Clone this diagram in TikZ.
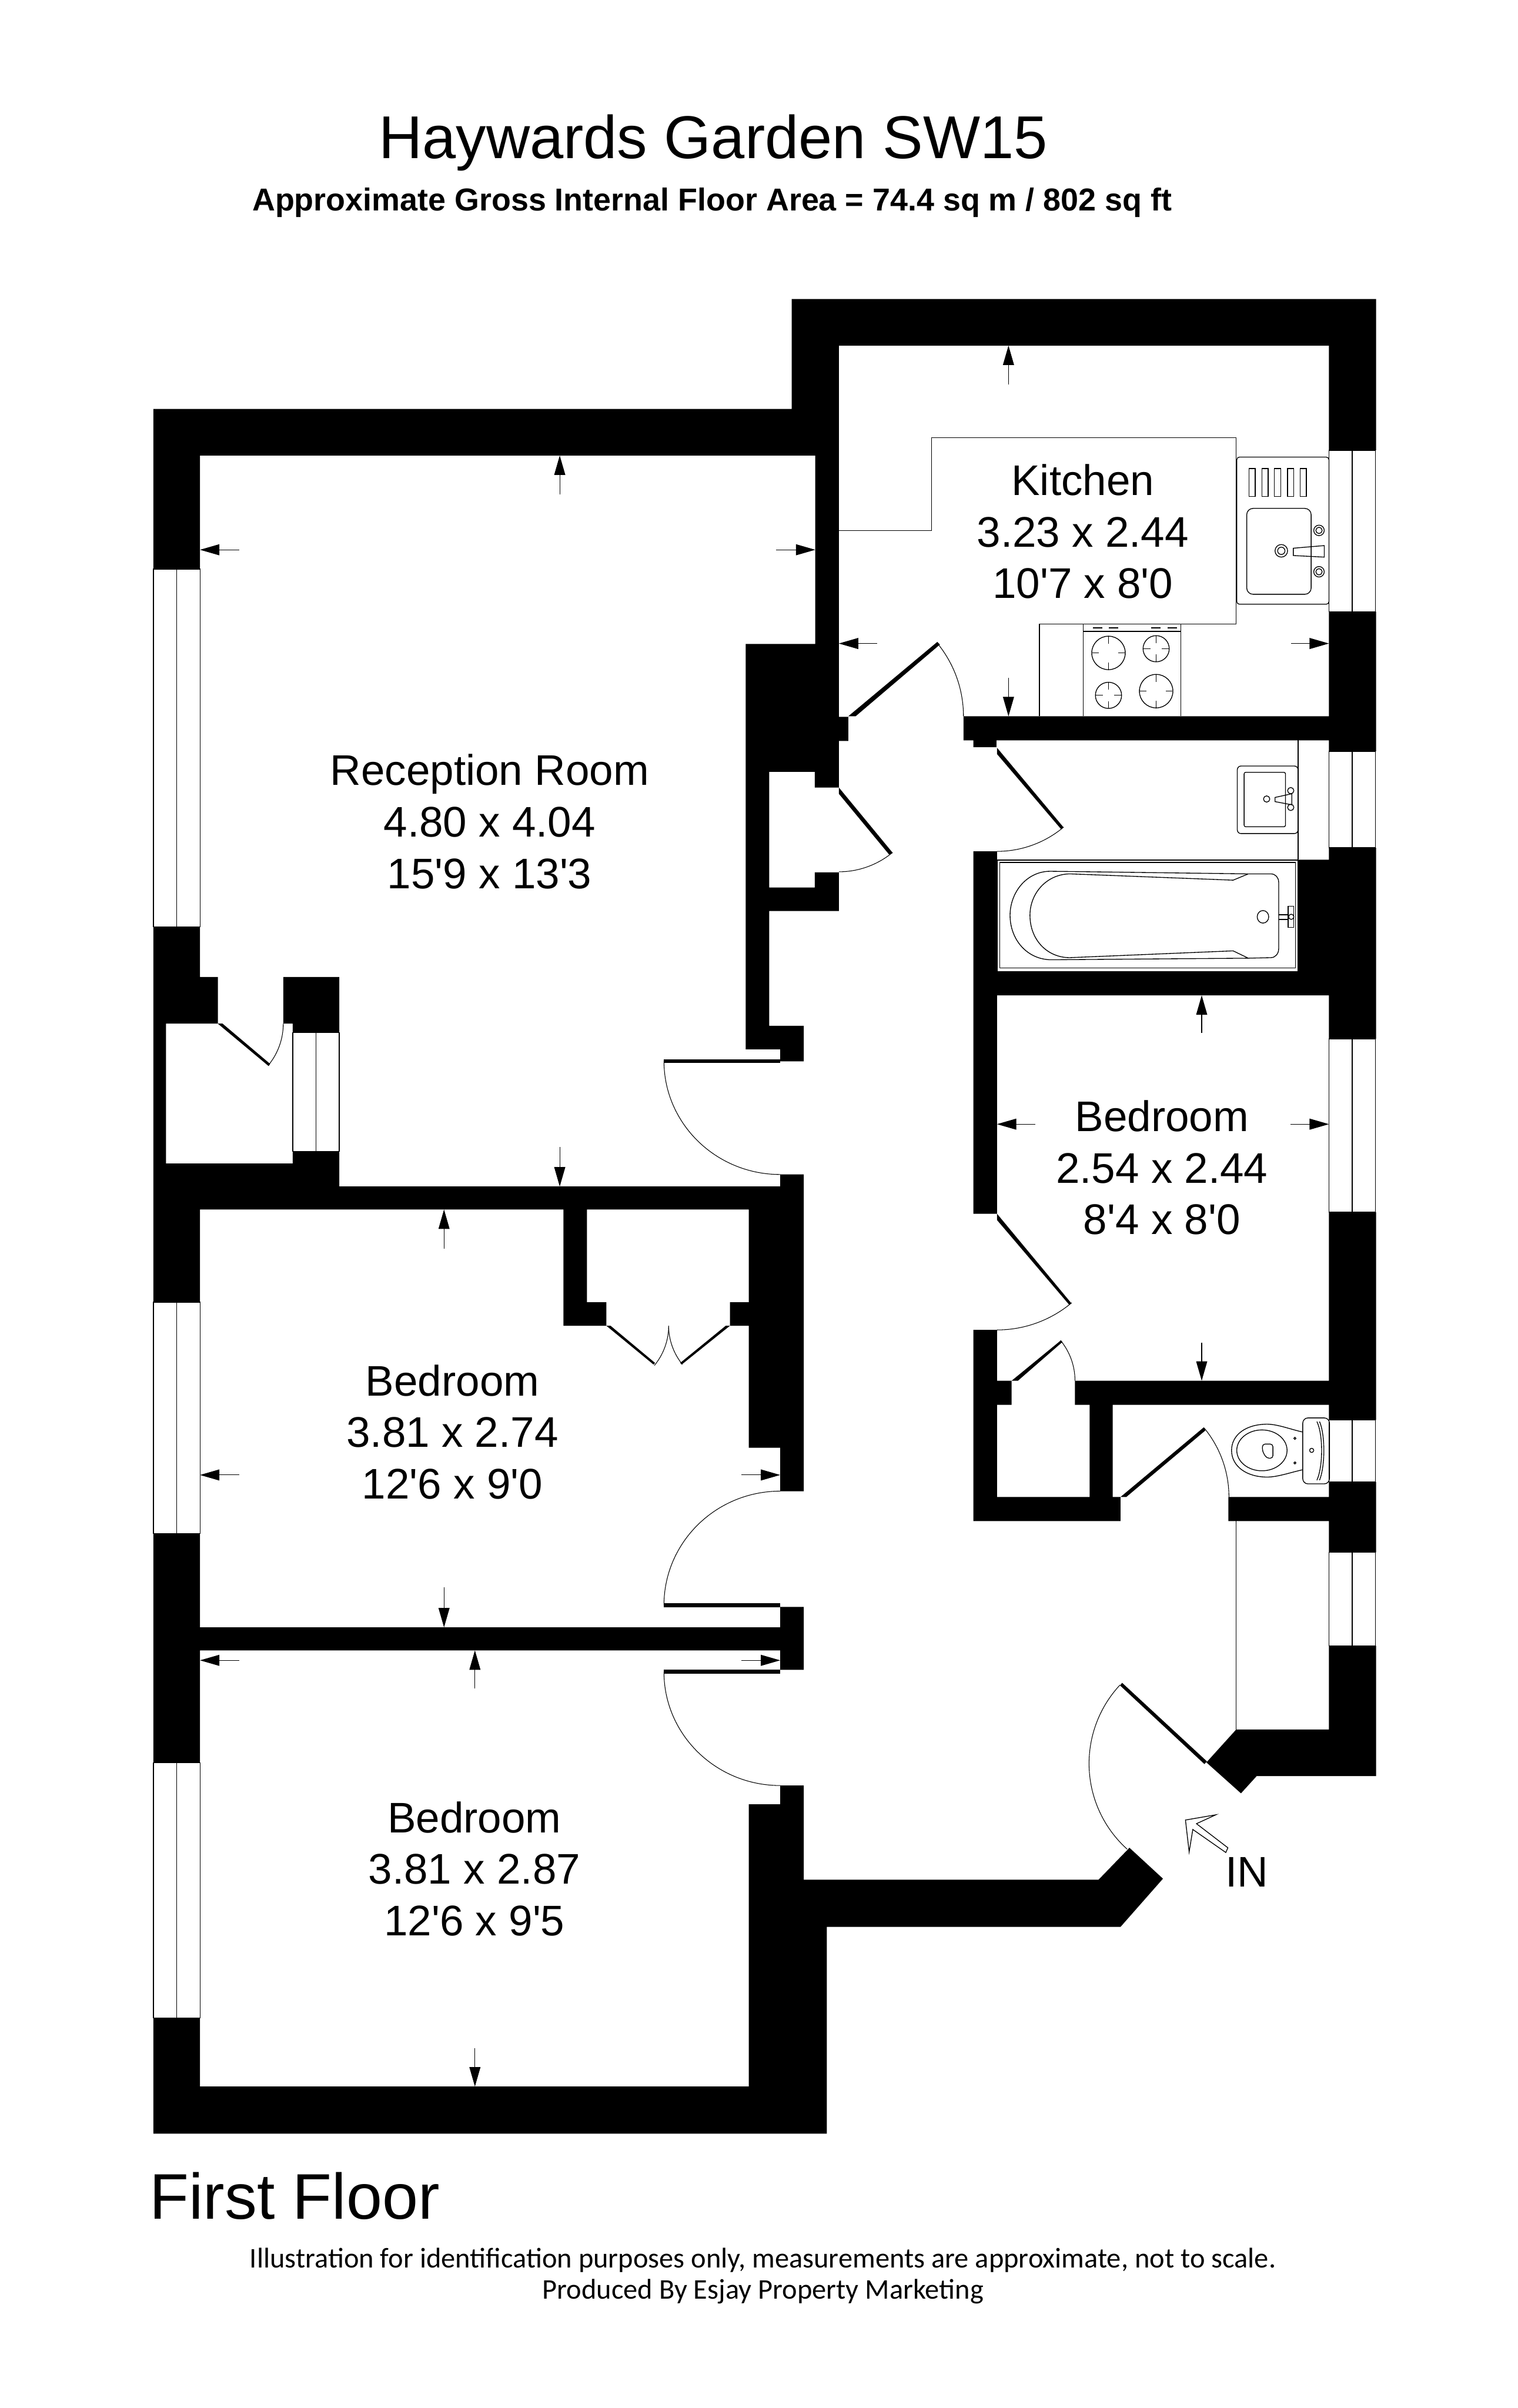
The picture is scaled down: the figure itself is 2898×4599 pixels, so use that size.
\documentclass[tikz,border=0pt]{standalone}
\usepackage{fontspec}
\setmainfont{Liberation Sans}
\newfontfamily\roomfont{Liberation Sans}
\newfontfamily\footfont{Carlito}
\usetikzlibrary{arrows.meta}

\tikzset{
  wall/.style={fill=black},
  fixline/.style={draw=black, line width=0.015cm, fill=white},
  thinline/.style={draw=black, line width=0.015cm},
  doorarc/.style={draw=black, line width=0.012cm},
  dimarrow/.style={->, draw=black, line width=0.012cm},
  roomlabel/.style={align=center, inner sep=0pt, font=\fontsize{23.25}{28}\selectfont\roomfont},
}

\begin{document}
\begin{tikzpicture}[x=0.01cm, y=-0.01cm,
  >={Triangle[length=0.37cm, width=0.21cm]}]
  \useasboundingbox (0,0) rectangle (2898,4599);
  \fill[white] (0,0) rectangle (2898,4599);

  % walls
  \fill[wall] (1512,571) -- (2628,571) -- (2628,860) -- (2538,860) -- (2538,660) -- (1602,660)
    -- (1602,1369) -- (1620,1369) -- (1620,1415) -- (1602,1415) -- (1602,1504) -- (1556,1504)
    -- (1556,1474) -- (1469,1474) -- (1469,1695) -- (1556,1695) -- (1556,1666) -- (1602,1666)
    -- (1602,1740) -- (1469,1740) -- (1469,1959) -- (1535,1959) -- (1535,2027) -- (1490,2027)
    -- (1490,2004) -- (1424,2004) -- (1424,1230) -- (1557,1230) -- (1557,870) -- (382,870)
    -- (382,1087) -- (293,1087) -- (293,781) -- (1512,781) -- cycle;
  \fill[wall] (1840,1368) -- (2538,1368) -- (2538,1168) -- (2628,1168) -- (2628,1435) -- (2538,1435)
    -- (2538,1414) -- (1903,1414) -- (1903,1427) -- (1859,1427) -- (1859,1414) -- (1840,1414) -- cycle;
  \fill[wall] (1859,1626) -- (1904,1626) -- (1904,1856) -- (2479,1856) -- (2479,1642) -- (2538,1642)
    -- (2538,1619) -- (2628,1619) -- (2628,1984) -- (2538,1984) -- (2538,1901) -- (1904,1901)
    -- (1904,2318) -- (1859,2318) -- cycle;
  \fill[wall] (1859,2540) -- (1904,2540) -- (1904,2637) -- (1932,2637) -- (1932,2683) -- (1904,2683)
    -- (1904,2859) -- (2081,2859) -- (2081,2683) -- (2053,2683) -- (2053,2637) -- (2538,2637)
    -- (2538,2315) -- (2628,2315) -- (2628,2712) -- (2538,2712) -- (2538,2683) -- (2125,2683)
    -- (2125,2859) -- (2140,2859) -- (2140,2905) -- (1859,2905) -- cycle;
  \fill[wall] (2346,2859) -- (2538,2859) -- (2538,2830) -- (2628,2830) -- (2628,2965) -- (2538,2965)
    -- (2538,2905) -- (2346,2905) -- cycle;
  \fill[wall] (2538,3143) -- (2628,3143) -- (2628,3392) -- (2400,3392) -- (2370,3425) -- (2304,3366)
    -- (2361,3303) -- (2538,3303) -- cycle;
  \fill[wall] (293,1770) -- (382,1770) -- (382,1866) -- (416,1866) -- (416,1955) -- (317,1955)
    -- (317,2222) -- (559,2222) -- (559,2199) -- (648,2199) -- (648,2266) -- (1490,2266)
    -- (1490,2243) -- (1535,2243) -- (1535,2848) -- (1490,2848) -- (1490,2765) -- (1430,2765)
    -- (1430,2532) -- (1394,2532) -- (1394,2487) -- (1430,2487) -- (1430,2310) -- (1121,2310)
    -- (1121,2487) -- (1158,2487) -- (1158,2532) -- (1076,2532) -- (1076,2310) -- (382,2310)
    -- (382,2487) -- (293,2487) -- cycle;
  \fill[wall] (541,1866) -- (648,1866) -- (648,1972) -- (559,1972) -- (559,1955) -- (541,1955) -- cycle;
  \fill[wall] (293,2929) -- (382,2929) -- (382,3108) -- (1490,3108) -- (1490,3069) -- (1535,3069)
    -- (1535,3189) -- (1490,3189) -- (1490,3152) -- (382,3152) -- (382,3367) -- (293,3367) -- cycle;
  \fill[wall] (293,3854) -- (382,3854) -- (382,3985) -- (1430,3985) -- (1430,3446) -- (1490,3446)
    -- (1490,3410) -- (1535,3410) -- (1535,3590) -- (2098,3590) -- (2157,3529) -- (2221,3588)
    -- (2140,3680) -- (1579,3680) -- (1579,4075) -- (293,4075) -- cycle;

  % windows
  \foreach \xa/\ya/\xb/\yb in {293/1087/382/1770, 293/2487/382/2929, 293/3367/382/3854,
      559/1972/648/2199, 2538/860/2627/1168, 2538/1435/2627/1619, 2538/1984/2627/2315,
      2538/2712/2627/2830, 2538/2965/2627/3143}{
    \draw[fixline] (\xa,\ya) rectangle (\xb,\yb);
    \draw[thinline] ({(\xa+\xb)/2},\ya) -- ({(\xa+\xb)/2},\yb);
  }

  % door leaves
  \fill[wall] (1268,2023) rectangle (1490,2030);
  \fill[wall] (1268,3062) rectangle (1490,3070);
  \fill[wall] (1268,3189) rectangle (1490,3197);
  \fill[wall] (1620,1368) -- (1634,1368) -- (1795,1231) -- (1790,1226) -- cycle;
  \fill[wall] (1602,1504) -- (1602,1516) -- (1698,1632) -- (1705,1629) -- cycle;
  \fill[wall] (1904,1428) -- (1904,1440) -- (2026,1583) -- (2031,1580) -- cycle;
  \fill[wall] (1904,2318) -- (1904,2330) -- (2042,2492) -- (2046,2489) -- cycle;
  \fill[wall] (1932,2637) -- (1944,2637) -- (2029,2563) -- (2026,2560) -- cycle;
  \fill[wall] (2140,2859) -- (2151,2859) -- (2302,2732) -- (2299,2726) -- cycle;
  \fill[wall] (2139,3219) -- (2143,3214) -- (2305,3364) -- (2300,3369) -- cycle;
  \fill[wall] (416,1955) -- (425,1955) -- (516,2032) -- (513,2036) -- cycle;
  \fill[wall] (1158,2532) -- (1166,2532) -- (1251,2603) -- (1248,2606) -- cycle;
  \fill[wall] (1394,2532) -- (1386,2532) -- (1299,2603) -- (1302,2606) -- cycle;

  % door swings
  \foreach \sx/\sy/\sa/\ea/\rad in {1840/1368/0/39.5/2.2, 1904/1626/-90/-50/1.98, 1904/2540/-90/-50/2.22,
      2053/2637/0/39.5/1.21, 2347/2859/0/39.5/2.07, 2139/3218/137/228/2.2, 1602/1665/-90/-50.5/1.61,
      541/1955/0/-39.5/1.25, 1277/2532/0/-39.5/1.19, 1277/2532/180/219/1.17}{
    \draw[doorarc] (\sx,\sy) arc[start angle=\sa, end angle=\ea, radius=\rad cm];
  }
  \draw[doorarc] (1268,2026) arc[start angle=180, end angle=270, x radius=2.22cm, y radius=2.17cm];
  \draw[doorarc] (1268,3066) arc[start angle=180, end angle=90, x radius=2.22cm, y radius=2.18cm];
  \draw[doorarc] (1268,3193) arc[start angle=180, end angle=270, x radius=2.22cm, y radius=2.17cm];

  % dimension arrows
  \foreach \xa/\ya/\xb/\yb in {1926/734/1926/660, 1926/1295/1926/1368, 1675/1229/1602/1229, 2466/1229/2538/1229,
      1069/944/1069/870, 1069/2191/1069/2266, 457/1050/382/1050, 1482/1050/1557/1050,
      848/2385/848/2310, 848/3032/848/3108, 457/2817/382/2817, 1416/2817/1490/2817,
      907/3225/907/3152, 907/3912/907/3985, 457/3171/382/3171, 1416/3171/1490/3171,
      2295/1973/2295/1901, 2295/2564/2295/2637, 1977/2147/1904/2147, 2465/2147/2538/2147}{
    \draw[dimarrow] (\xa,\ya) -- (\xb,\yb);
  }

  % kitchen units
  \draw[thinline] (1602,1013) -- (1779,1013) -- (1779,836) -- (2361,836) -- (2361,1192) -- (1985,1192) -- (1985,1368);
  \draw[thinline] (2069,1192) -- (2069,1368) (2255,1192) -- (2255,1368) (2069,1206) -- (2255,1206);
  \foreach \hx/\hy/\hr in {2117/1247/32, 2208/1239/25, 2117/1328/25, 2208/1320/32}{
    \draw[thinline] (\hx,\hy) circle[radius=\hr*0.01cm];
    \draw[thinline] (\hx-\hr,\hy) -- +(14,0) (\hx+\hr,\hy) -- +(-14,0) (\hx,\hy-\hr) -- +(0,14) (\hx,\hy+\hr) -- +(0,-14);
  }
  \foreach \hx in {2087,2118,2198,2230}
    \draw[thinline] (\hx,1199) -- +(18,0);
  \draw[thinline, rounded corners=0.05cm] (2362,873) rectangle (2538,1154);
  \foreach \hx in {2385,2410,2434,2459,2483}
    \draw[thinline] (\hx,895) rectangle +(12,53);
  \draw[thinline, rounded corners=0.12cm] (2381,971) rectangle (2504,1135);
  \foreach \hy in {1013,1092}{
    \draw[thinline] (2519,\hy) circle[radius=0.1cm];
    \draw[thinline] (2519,\hy) circle[radius=0.06cm];
  }
  \draw[thinline] (2447,1052) circle[radius=0.12cm] circle[radius=0.07cm];
  \draw[thinline] (2470,1047) -- (2470,1061) -- (2529,1064) -- (2529,1042) -- cycle;

  % bathroom
  \draw[thinline] (1904,1642) -- (2479,1642) (2479,1414) -- (2479,1642);
  \draw[thinline] (1905,1643) rectangle (2479,1856);
  \draw[thinline] (1909,1647) rectangle (2474,1849);
  \draw[thinline] (2384,1669) -- (2006,1664) .. controls (1960,1664) and (1929,1705) .. (1929,1748)
    .. controls (1929,1795) and (1962,1833) .. (2008,1833) -- (2384,1830);
  \draw[thinline] (2384,1669) -- (2355,1681) -- (2044,1669) .. controls (2000,1669) and (1967,1705) .. (1967,1748)
    .. controls (1967,1795) and (2000,1829) .. (2043,1829) -- (2355,1816) -- (2384,1830);
  \draw[thinline] (2384,1669) -- (2427,1669) .. controls (2436,1669) and (2442,1676) .. (2442,1685)
    -- (2442,1812) .. controls (2442,1821) and (2436,1829) .. (2427,1829) -- (2384,1830);
  \draw[thinline] (2412,1751) ellipse[x radius=0.11cm, y radius=0.12cm];
  \draw[thinline] (2442,1747) -- (2460,1747) (2442,1756) -- (2460,1756);
  \draw[thinline] (2460,1731) rectangle (2471,1771);
  \draw[thinline] (2466,1751) circle[radius=0.05cm];
  \draw[thinline, rounded corners=0.07cm] (2363,1463) rectangle (2479,1592);
  \draw[thinline, rounded corners=0.03cm] (2376,1475) rectangle (2455,1579);
  \foreach \hy in {1510,1542}
    \draw[thinline] (2465,\hy) circle[radius=0.06cm];
  \draw[thinline] (2419,1526) circle[radius=0.06cm];
  \draw[thinline] (2435,1523) -- (2435,1531) -- (2467,1537) -- (2467,1516) -- cycle;

  % WC
  \draw[thinline, rounded corners=0.1cm] (2488,2708) rectangle (2539,2834);
  \draw[thinline] (2488,2735) .. controls (2465,2730) and (2440,2720) .. (2420,2720)
    .. controls (2380,2720) and (2352,2740) .. (2352,2770) .. controls (2352,2800) and (2380,2821) .. (2420,2821)
    .. controls (2440,2821) and (2465,2812) .. (2488,2807);
  \draw[thinline] (2410,2770) ellipse[x radius=0.48cm, y radius=0.39cm];
  \draw[thinline, rounded corners=0.05cm] (2411,2758) -- (2431,2758) -- (2431,2785) -- (2419,2785) -- (2411,2772) -- cycle;
  \draw[thinline] (2473,2747) circle[radius=0.02cm] (2473,2794) circle[radius=0.02cm];
  \draw[thinline] (2505,2770) circle[radius=0.04cm];
  \draw[thinline] (2515,2715) .. controls (2527,2740) and (2527,2800) .. (2515,2827);
  \draw[thinline] (2520,2715) .. controls (2531,2740) and (2531,2800) .. (2520,2827);

  % hall cupboard
  \draw[thinline] (2361,2905) -- (2361,3303);

  % entrance arrow
  \draw[thinline, fill=white] (2264,3476) -- (2322,3466) -- (2285,3483) -- (2345,3529) -- (2341,3538)
    -- (2278,3494) -- (2271,3537) -- cycle;

  % texts
  \node[anchor=base, inner sep=0pt, font=\fontsize{32.85}{36}\selectfont] (title) at (1362,303) {Haywards Garden SW15};
  \node[anchor=base, inner sep=0pt, font=\fontsize{17.2}{20}\selectfont\bfseries] (area) at (1360,403)
    {Approximate Gross Internal Floor Area = 74.4 sq m / 802 sq ft};
  \node[roomlabel] (kitchen) at (2068,1015) {Kitchen\\3.23 x 2.44\\10'7 x 8'0};
  \node[roomlabel] (reception) at (935,1569) {Reception Room\\4.80 x 4.04\\15'9 x 13'3};
  \node[roomlabel] (bedrooma) at (864,2735) {Bedroom\\3.81 x 2.74\\12'6 x 9'0};
  \node[roomlabel] (bedroomb) at (906,3569) {Bedroom\\3.81 x 2.87\\12'6 x 9'5};
  \node[roomlabel] (bedroomc) at (2219,2230) {Bedroom\\2.54 x 2.44\\8'4 x 8'0};
  \node[roomlabel] (entry) at (2381,3576) {IN};
  \node[anchor=base west, inner sep=0pt, font=\fontsize{35}{38}\selectfont] (floor) at (285,4238) {First Floor};
  \node[anchor=base, inner sep=0pt, font=\fontsize{15.47}{20}\selectfont\footfont] (disclaim) at (1457,4331)
    {Illustration for identification purposes only, measurements are approximate, not to scale.};
  \node[anchor=base, inner sep=0pt, font=\fontsize{15.47}{20}\selectfont\footfont] (maker) at (1457,4391)
    {Produced By Esjay Property Marketing};
\end{tikzpicture}
\end{document}
